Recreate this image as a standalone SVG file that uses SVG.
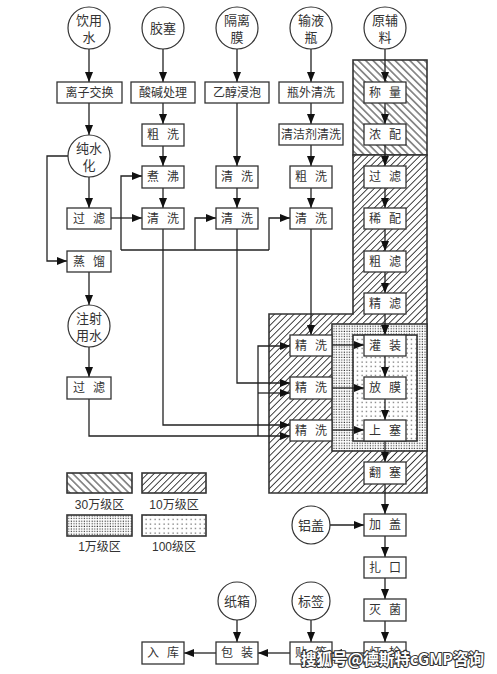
<svg xmlns="http://www.w3.org/2000/svg" width="497" height="674" viewBox="0 0 497 674">
<defs>
<style>
.b{fill:#fff;stroke:#333;stroke-width:1.3}
.c{fill:#fff;stroke:#333;stroke-width:1.2}
.t{font-family:"Liberation Serif","Noto Sans CJK SC",serif;font-size:12px;fill:#333;text-anchor:middle;dominant-baseline:central;word-spacing:5px}
.ct{font-family:"Liberation Serif","Noto Sans CJK SC",serif;font-size:13px;fill:#333;text-anchor:middle;dominant-baseline:central}
.lg{font-family:"Liberation Sans","Noto Sans CJK SC",sans-serif;font-size:12px;fill:#333;text-anchor:middle;dominant-baseline:central}
.l{fill:none;stroke:#222;stroke-width:1.3}
.a{marker-end:url(#ah)}
.z{stroke:#333;stroke-width:1.6}
.wm{font-family:"Noto Sans CJK SC",sans-serif;font-weight:bold;font-size:16px;fill:#fff;stroke:#333;stroke-width:2.2;paint-order:stroke;stroke-linejoin:round}
</style>
<marker id="ah" markerWidth="10" markerHeight="8" refX="10" refY="4" orient="auto" markerUnits="userSpaceOnUse"><path d="M0,0 L10,4 L0,8 z" fill="#111"/></marker>
<pattern id="p30" width="5.2" height="5.2" patternUnits="userSpaceOnUse" patternTransform="rotate(-45)"><rect width="5.2" height="5.2" fill="#fff"/><line x1="2.6" y1="0" x2="2.6" y2="5.2" stroke="#222" stroke-width="0.95"/></pattern>
<pattern id="p10" width="4.6" height="4.6" patternUnits="userSpaceOnUse" patternTransform="rotate(45)"><rect width="4.6" height="4.6" fill="#fff"/><line x1="2.3" y1="0" x2="2.3" y2="4.6" stroke="#222" stroke-width="0.85"/></pattern>
<pattern id="d1" width="2.6" height="2.6" patternUnits="userSpaceOnUse"><rect width="2.6" height="2.6" fill="#fff"/><rect x="0.6" y="0.6" width="1.1" height="1.1" fill="#222"/></pattern>
<pattern id="d100" width="4.5" height="4.5" patternUnits="userSpaceOnUse"><rect width="4.5" height="4.5" fill="#fff"/><rect x="1.5" y="1.5" width="1.1" height="1.1" fill="#333"/></pattern>
</defs>
<rect width="497" height="674" fill="#fff"/>

<g id="zones">
<rect class="z" x="353" y="60" width="74" height="95" fill="url(#p30)"/>
<path class="z" d="M353,155 H427 V493 H269 V314 H353 Z" fill="url(#p10)"/>
<rect class="z" x="332" y="324" width="95" height="127" fill="url(#d1)"/>
<rect class="z" x="353" y="335" width="64" height="106" fill="url(#d100)"/>
</g>

<g id="legend">
<rect class="z" x="67" y="473" width="65" height="20" fill="url(#p30)"/>
<text class="lg" x="99.5" y="505">30万级区</text>
<rect class="z" x="142" y="473" width="64" height="20" fill="url(#p10)"/>
<text class="lg" x="174" y="505">10万级区</text>
<rect class="z" x="67" y="515" width="65" height="21" fill="url(#d1)"/>
<text class="lg" x="99.5" y="547">1万级区</text>
<rect class="z" x="142" y="515" width="64" height="21" fill="url(#d100)"/>
<text class="lg" x="174" y="547">100级区</text>
</g>

<g id="connectors">
<path class="l a" d="M89,49 V82"/>
<path class="l a" d="M89,103 V135"/>
<path class="l a" d="M89,177 V208"/>
<path class="l a" d="M68,156 H47 V261 H67"/>
<path class="l a" d="M89,272 V305"/>
<path class="l a" d="M89,347 V377"/>
<path class="l a" d="M111,218 H142"/>
<path class="l a" d="M121,250 V176 H142"/>
<path class="l" d="M121,250 H269"/>
<path class="l a" d="M195,250 V218 H216"/>
<path class="l a" d="M269,250 V218 H290"/>
<path class="l a" d="M163,49 V82"/>
<path class="l a" d="M163,103 V124"/>
<path class="l a" d="M163,146 V166"/>
<path class="l a" d="M163,188 V208"/>
<path class="l a" d="M163,229 V425 H290"/>
<path class="l a" d="M237,49 V82"/>
<path class="l a" d="M237,103 V166"/>
<path class="l a" d="M237,188 V208"/>
<path class="l a" d="M237,229 V383 H290"/>
<path class="l a" d="M311,49 V82"/>
<path class="l a" d="M311,103 V124"/>
<path class="l a" d="M311,145 V166"/>
<path class="l a" d="M311,188 V208"/>
<path class="l a" d="M311,229 V335"/>
<path class="l a" d="M89,399 V436 H290"/>
<path class="l a" d="M258,436 V346 H290"/>
<path class="l a" d="M258,393 H290"/>
<path class="l a" d="M385,49 V82"/>
<path class="l a" d="M385,103 V124"/>
<path class="l a" d="M385,145 V166"/>
<path class="l a" d="M385,188 V208"/>
<path class="l a" d="M385,229 V251"/>
<path class="l a" d="M385,272 V293"/>
<path class="l a" d="M385,314 V335"/>
<path class="l a" d="M385,356 V377"/>
<path class="l a" d="M385,399 V420"/>
<path class="l a" d="M385,441 V462"/>
<path class="l a" d="M385,484 V514"/>
<path class="l a" d="M385,536 V557"/>
<path class="l a" d="M385,578 V599"/>
<path class="l a" d="M385,621 V642"/>
<path class="l a" d="M332,345 H364"/>
<path class="l a" d="M332,388 H364"/>
<path class="l a" d="M332,430 H364"/>
<path class="l a" d="M330,525 H364"/>
<path class="l a" d="M364,653 H332"/>
<path class="l a" d="M311,620 V642"/>
<path class="l a" d="M290,653 H258"/>
<path class="l a" d="M237,620 V642"/>
<path class="l a" d="M216,653 H184"/>
</g>

<g id="n-yinyongshui"><circle class="c" cx="89" cy="28" r="21"/><text class="ct" x="89" y="20">饮用</text><text class="ct" x="89" y="37">水</text></g>
<g id="n-jiaosai"><circle class="c" cx="163" cy="28" r="21"/><text class="ct" x="163" y="28">胶塞</text></g>
<g id="n-gelimo"><circle class="c" cx="237" cy="28" r="21"/><text class="ct" x="237" y="20">隔离</text><text class="ct" x="237" y="37">膜</text></g>
<g id="n-shuyeping"><circle class="c" cx="311" cy="28" r="21"/><text class="ct" x="311" y="20">输液</text><text class="ct" x="311" y="37">瓶</text></g>
<g id="n-yuanfuliao"><circle class="c" cx="385" cy="28" r="21"/><text class="ct" x="385" y="20">原辅</text><text class="ct" x="385" y="37">料</text></g>

<g id="n-lizijiaohuan"><rect class="b" x="57" y="82" width="65" height="21"/><text class="t" x="89.5" y="92.5">离子交换</text></g>
<g id="n-chunshuihua"><circle class="c" cx="89" cy="156" r="21"/><text class="ct" x="89" y="148">纯水</text><text class="ct" x="89" y="165">化</text></g>
<g id="n-guolv1"><rect class="b" x="67" y="208" width="44" height="21"/><text class="t" x="89" y="218.5">过 滤</text></g>
<g id="n-zhengliu"><rect class="b" x="67" y="251" width="44" height="21"/><text class="t" x="89" y="261.5">蒸 馏</text></g>
<g id="n-zhusheyongshui"><circle class="c" cx="89" cy="326" r="21"/><text class="ct" x="89" y="318">注射</text><text class="ct" x="89" y="335">用水</text></g>
<g id="n-guolv2"><rect class="b" x="67" y="377" width="44" height="22"/><text class="t" x="89" y="388">过 滤</text></g>

<g id="n-suanjian"><rect class="b" x="131" y="82" width="64" height="21"/><text class="t" x="163" y="92.5">酸碱处理</text></g>
<g id="n-cuxi2"><rect class="b" x="142" y="124" width="42" height="22"/><text class="t" x="163" y="135">粗 洗</text></g>
<g id="n-zhufei"><rect class="b" x="142" y="166" width="42" height="22"/><text class="t" x="163" y="177">煮 沸</text></g>
<g id="n-qingxi2"><rect class="b" x="142" y="208" width="42" height="21"/><text class="t" x="163" y="218.5">清 洗</text></g>

<g id="n-yichun"><rect class="b" x="205" y="82" width="64" height="21"/><text class="t" x="237" y="92.5">乙醇浸泡</text></g>
<g id="n-qingxi3a"><rect class="b" x="216" y="166" width="42" height="22"/><text class="t" x="237" y="177">清 洗</text></g>
<g id="n-qingxi3b"><rect class="b" x="216" y="208" width="42" height="21"/><text class="t" x="237" y="218.5">清 洗</text></g>

<g id="n-pingwai"><rect class="b" x="279" y="82" width="64" height="21"/><text class="t" x="311" y="92.5">瓶外清洗</text></g>
<g id="n-qingjieji"><rect class="b" x="279" y="124" width="64" height="21"/><text class="t" x="311" y="134.5">清洁剂清洗</text></g>
<g id="n-cuxi4"><rect class="b" x="290" y="166" width="42" height="22"/><text class="t" x="311" y="177">粗 洗</text></g>
<g id="n-qingxi4"><rect class="b" x="290" y="208" width="42" height="21"/><text class="t" x="311" y="218.5">清 洗</text></g>

<g id="n-chengliang"><rect class="b" x="364" y="82" width="42" height="21"/><text class="t" x="385" y="92.5">称 量</text></g>
<g id="n-nongpei"><rect class="b" x="364" y="124" width="42" height="21"/><text class="t" x="385" y="134.5">浓 配</text></g>
<g id="n-guolv5"><rect class="b" x="364" y="166" width="42" height="22"/><text class="t" x="385" y="177">过 滤</text></g>
<g id="n-xipei"><rect class="b" x="364" y="208" width="42" height="21"/><text class="t" x="385" y="218.5">稀 配</text></g>
<g id="n-culv"><rect class="b" x="364" y="251" width="42" height="21"/><text class="t" x="385" y="261.5">粗 滤</text></g>
<g id="n-jinglv"><rect class="b" x="364" y="293" width="42" height="21"/><text class="t" x="385" y="303.5">精 滤</text></g>

<g id="n-jingxi1"><rect class="b" x="290" y="335" width="42" height="21"/><text class="t" x="311" y="345.5">精 洗</text></g>
<g id="n-jingxi2"><rect class="b" x="290" y="377" width="42" height="22"/><text class="t" x="311" y="388">精 洗</text></g>
<g id="n-jingxi3"><rect class="b" x="290" y="420" width="42" height="21"/><text class="t" x="311" y="430.5">精 洗</text></g>

<g id="n-guanzhuang"><rect class="b" x="364" y="335" width="42" height="21"/><text class="t" x="385" y="345.5">灌 装</text></g>
<g id="n-fangmo"><rect class="b" x="364" y="377" width="42" height="22"/><text class="t" x="385" y="388">放 膜</text></g>
<g id="n-shangsai"><rect class="b" x="364" y="420" width="42" height="21"/><text class="t" x="385" y="430.5">上 塞</text></g>
<g id="n-fansai"><rect class="b" x="364" y="462" width="42" height="22"/><text class="t" x="385" y="473">翻 塞</text></g>

<g id="n-lvgai"><circle class="c" cx="311" cy="525" r="19"/><text class="ct" x="311" y="525">铝盖</text></g>
<g id="n-jiagai"><rect class="b" x="364" y="514" width="42" height="22"/><text class="t" x="385" y="525">加 盖</text></g>
<g id="n-zakou"><rect class="b" x="364" y="557" width="42" height="21"/><text class="t" x="385" y="567.5">扎 口</text></g>
<g id="n-miejun"><rect class="b" x="364" y="599" width="42" height="22"/><text class="t" x="385" y="610">灭 菌</text></g>
<g id="n-dengjian"><rect class="b" x="364" y="642" width="42" height="22"/><text class="t" x="385" y="653">灯 检</text></g>

<g id="n-biaoqian"><circle class="c" cx="311" cy="601" r="19"/><text class="ct" x="311" y="601">标签</text></g>
<g id="n-tieqian"><rect class="b" x="290" y="642" width="42" height="22"/><text class="t" x="311" y="653">贴 签</text></g>
<g id="n-zhixiang"><circle class="c" cx="237" cy="601" r="19"/><text class="ct" x="237" y="601">纸箱</text></g>
<g id="n-baozhuang"><rect class="b" x="216" y="642" width="42" height="22"/><text class="t" x="237" y="653">包 装</text></g>
<g id="n-ruku"><rect class="b" x="142" y="642" width="42" height="22"/><text class="t" x="163" y="653">入 库</text></g>

<g id="watermark"><text class="wm" x="301" y="665" textLength="183" lengthAdjust="spacingAndGlyphs">搜狐号@德斯特cGMP咨询</text></g>
</svg>
